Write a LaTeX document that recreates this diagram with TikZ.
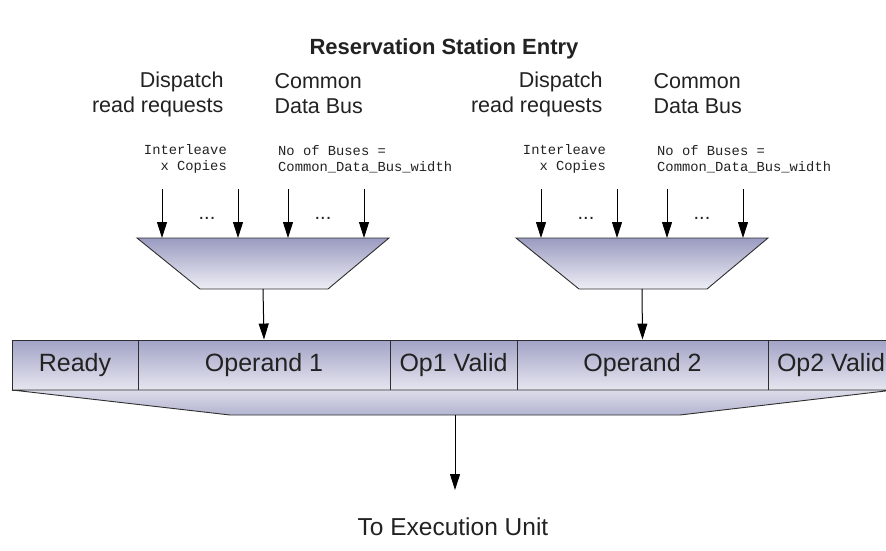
\documentclass[tikz,border=0pt]{standalone}
\usepackage{fontspec}
\setmainfont{Liberation Sans}
\setmonofont{Liberation Mono}
\usetikzlibrary{arrows.meta}
\definecolor{edge}{HTML}{2E2E2E}
\definecolor{txt}{HTML}{222222}
\definecolor{regtop}{HTML}{A2A3C6}
\definecolor{regbot}{HTML}{E6E6F0}
\definecolor{muxtop}{HTML}{9A9BC1}
\definecolor{muxbot}{HTML}{EEEEF5}
\definecolor{fantop}{HTML}{DCDCEA}
\definecolor{fanbot}{HTML}{B3B4D0}
\begin{document}
\begin{tikzpicture}[x=1pt,y=1pt,
  wire/.style={draw=black, line width=1pt, -{Triangle[width=10pt,length=16pt]}},
  cell/.style={draw=edge, line width=0.9pt, top color=regtop, bottom color=regbot,
    minimum height=50pt, inner sep=0pt, text=txt, font=\fontsize{25}{30}\selectfont},
  muxbox/.style={draw=edge, line width=0.9pt, top color=muxtop, bottom color=muxbot},
  fanbox/.style={draw=edge, line width=0.9pt, top color=fantop, bottom color=fanbot},
  head/.style={text=txt, font=\fontsize{21.5}{25}\selectfont},
  note/.style={text=txt, font=\ttfamily\fontsize{13.8}{16}\selectfont},
  dots/.style={text=txt, font=\fontsize{20}{24}\selectfont}]
\clip (0,0) rectangle (886,550);
\useasboundingbox (0,0) rectangle (886,550);

% title
\node[text=txt, font=\bfseries\fontsize{22}{26}\selectfont] (title) at (444,501) {Reservation Station Entry};

% register fields
\node[cell, minimum width=126pt] (ready) at (75,185) {Ready};
\node[cell, minimum width=252pt] (op1) at (264,185) {Operand 1};
\node[cell, minimum width=127pt] (v1) at (453.5,185) {Op1 Valid};
\node[cell, minimum width=251pt] (op2) at (642.5,185) {Operand 2};
\node[cell, minimum width=126pt] (v2) at (831,185) {Op2 Valid};

% output funnel below the register
\path[fanbox] (12,160) -- (230,135) -- (680,135) -- (894,160) -- cycle;
\coordinate (fanout) at (455,135);
\coordinate (exec) at (455,60);
\draw[wire] (fanout) -- (exec);
\node[text=txt, font=\fontsize{24.5}{29}\selectfont] (execlbl) at (453,23) {To Execution Unit};

% operand input multiplexers
\foreach \n/\dx in {1/0, 2/379} {
  \begin{scope}[xshift=\dx pt]
    \path[muxbox] (137,312) -- (389,312) -- (328,261) -- (200,261) -- cycle;
    \coordinate (mux\n out) at (263,261);
    \foreach \k/\xx in {a/162, b/238, c/288, d/364} {
      \coordinate (src\n\k) at (\xx,361);
      \coordinate (dst\n\k) at (\xx,312);
      \draw[wire] (src\n\k) -- (dst\n\k);
    }
    \node[dots] (dotsA\n) at (207,332) {...};
    \node[dots] (dotsB\n) at (323,332) {...};
    \node[head, align=right, anchor=east] (disp\n) at (227,456) {Dispatch\\read requests};
    \node[head, align=left, anchor=west] (cdb\n) at (271,456) {Common\\Data Bus};
    \node[note, align=right, anchor=east, inner sep=0pt] (inter\n) at (227,391) {Interleave\\x Copies};
    \node[note, align=left, anchor=west, inner sep=0pt] (buses\n) at (278,391) {No of Buses =\\Common\_Data\_Bus\_width};
  \end{scope}
}
\draw[wire] (mux1out) -- (op1.north);
\draw[wire] (mux2out) -- (op2.north);
\end{tikzpicture}
\end{document}
